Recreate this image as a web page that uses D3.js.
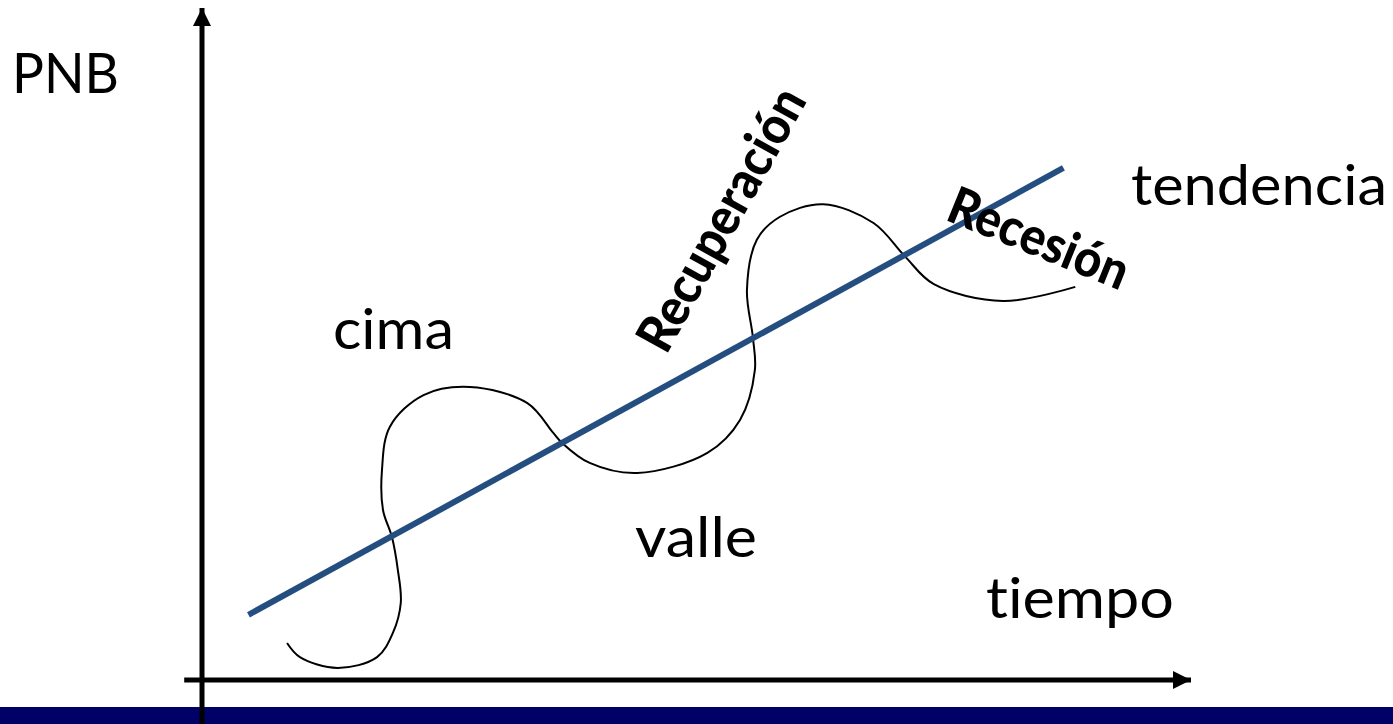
<!DOCTYPE html>
<html>
<head>
<meta charset="utf-8">
<script src="https://cdn.jsdelivr.net/npm/d3@7"></script>
<style>
  html, body { margin: 0; padding: 0; background: #fff; }
  svg { display: block; font-family: Lato, "Open Sans", sans-serif; font-variant-ligatures: none; }
</style>
</head>
<body>
<div id="chart"></div>
<script>
// tiempo (0-100) vs PNB (0-100), schematic business cycle
const trendX = [4.7, 87.1];
const trendY = [9.7, 76.2];

const cycleX = [8.6, 9.9, 13.7, 17.7, 19.3, 20.1, 19.8, 19.2, 18.3, 18.2, 19.0, 22.4, 27.1, 32.9, 35.5, 36.4,
                39.2, 44.0, 51.1, 54.4, 55.9, 55.7, 55.1, 56.1, 58.4, 62.8, 67.9, 71.1, 74.0, 81.0, 88.3];
const cycleY = [5.5, 3.4, 1.8, 3.4, 7.0, 11.5, 16.4, 21.3, 25.3, 31.3, 37.7, 42.4, 43.6, 41.2, 36.8, 35.3,
                32.3, 30.8, 33.8, 38.7, 46.1, 51.0, 58.0, 65.5, 68.9, 70.8, 68.0, 63.0, 58.9, 56.4, 58.5];

const axisLabels = ["PNB", "tiempo"];
const plainLabels = ["cima", "valle", "tendencia"];
const phaseLabels = ["Recuperación", "Recesión"];

const width = 1393, height = 724;

const x = d3.scaleLinear().domain([0, 100]).range([202, 1191]);
const y = d3.scaleLinear().domain([0, 100]).range([680, 8]);

const svg = d3.select("#chart").append("svg")
    .attr("width", width)
    .attr("height", height);

// bottom band
svg.append("rect")
    .attr("x", 0).attr("y", 707)
    .attr("width", width).attr("height", height - 707)
    .attr("fill", "#000066");

let defs = svg.append("defs");
defs.append("marker")
    .attr("id", "arrow")
    .attr("viewBox", "0 0 18 18")
    .attr("refX", 18).attr("refY", 9)
    .attr("markerWidth", 18).attr("markerHeight", 18)
    .attr("markerUnits", "userSpaceOnUse")
    .attr("orient", "auto")
  .append("path")
    .attr("d", "M0,0 L18,9 L0,18 Z")
    .attr("fill", "#000");

// axes
svg.append("line")
    .attr("x1", x(0)).attr("y1", height)
    .attr("x2", x(0)).attr("y2", y(100))
    .attr("stroke", "#000").attr("stroke-width", 5)
    .attr("marker-end", "url(#arrow)");

svg.append("line")
    .attr("x1", x(-1.8)).attr("y1", y(0))
    .attr("x2", x(100)).attr("y2", y(0))
    .attr("stroke", "#000").attr("stroke-width", 5)
    .attr("marker-end", "url(#arrow)");

// cycle curve
const cycle = cycleX.map((d, i) => [d, cycleY[i]]);
svg.append("path")
    .datum(cycle)
    .attr("d", d3.line()
        .x(d => x(d[0]))
        .y(d => y(d[1]))
        .curve(d3.curveCatmullRom.alpha(0.5)))
    .attr("fill", "none")
    .attr("stroke", "#000")
    .attr("stroke-width", 2);

// trend line
svg.append("line")
    .attr("x1", x(trendX[0])).attr("y1", y(trendY[0]))
    .attr("x2", x(trendX[1])).attr("y2", y(trendY[1]))
    .attr("stroke", "#254E80")
    .attr("stroke-width", 6);

// labels
const plain = [
    { t: axisLabels[0], x: 12, y: 93, len: 107 },
    { t: axisLabels[1], x: 986, y: 618, len: 188 },
    { t: plainLabels[0], x: 333, y: 349, len: 121 },
    { t: plainLabels[1], x: 635, y: 557, len: 122 },
    { t: plainLabels[2], x: 1131, y: 205, len: 256 }
];

svg.selectAll("text.plain")
    .data(plain)
    .enter().append("text")
      .attr("class", "plain")
      .attr("x", d => d.x)
      .attr("y", d => d.y)
      .attr("font-size", "57px")
      .attr("textLength", d => d.len)
      .attr("lengthAdjust", "spacingAndGlyphs")
      .attr("fill", "#000")
      .text(d => d.t);

const phases = [
    { t: phaseLabels[0], cx: 737, cy: 228, rot: -61, len: 292 },
    { t: phaseLabels[1], cx: 1032, cy: 255, rot: 22, len: 190 }
];

svg.selectAll("text.phase")
    .data(phases)
    .enter().append("text")
      .attr("class", "phase")
      .attr("transform", d => `translate(${d.cx},${d.cy}) rotate(${d.rot})`)
      .attr("text-anchor", "middle")
      .attr("font-size", "52px")
      .attr("font-weight", "900")
      .attr("textLength", d => d.len)
      .attr("lengthAdjust", "spacingAndGlyphs")
      .attr("fill", "#000")
      .text(d => d.t);
</script>
</body>
</html>
